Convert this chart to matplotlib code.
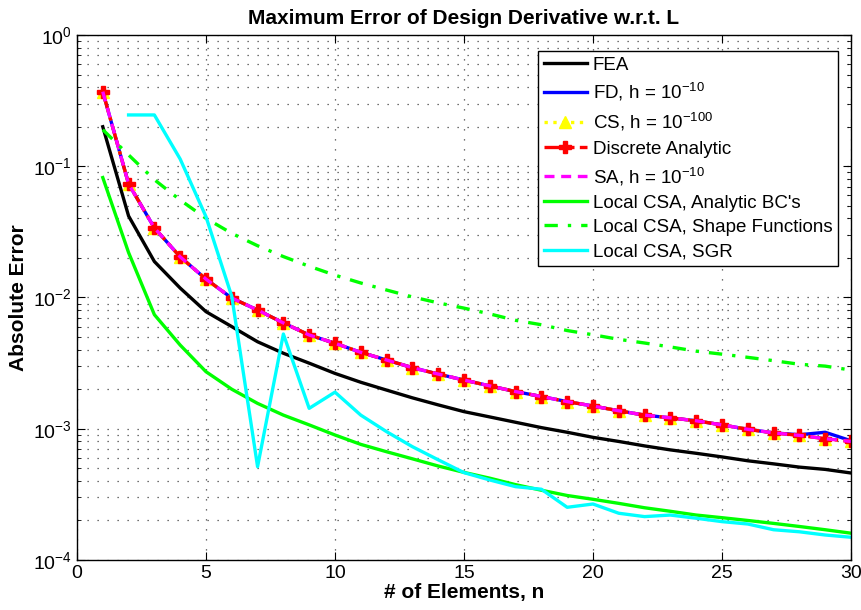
import numpy as np
import matplotlib
matplotlib.use('Agg')
import matplotlib.pyplot as plt
from matplotlib.ticker import LogLocator, FixedLocator

plt.rcParams['font.family'] = ['Liberation Sans', 'DejaVu Sans']
plt.rcParams['mathtext.fontset'] = 'custom'
plt.rcParams['mathtext.rm'] = 'Liberation Sans'

# number of elements
n = np.arange(1, 31)
n_sgr = np.arange(2, 31)

# errors
fea = [0.20, 0.0418, 0.0188, 0.0118, 0.0078, 0.0060, 0.0046, 0.00376, 0.00316, 0.00264,
       0.00226, 0.00197, 0.00172, 0.00152, 0.00135, 0.00123, 0.00112, 0.00102, 0.00094, 0.00086,
       0.00080, 0.00074, 0.00069, 0.00065, 0.00061, 0.00057, 0.00054, 0.00051, 0.00049, 0.00046]
analytic = [0.37, 0.0735, 0.0339, 0.0204, 0.0138, 0.0099, 0.00803, 0.0064, 0.00518, 0.00448,
            0.00382, 0.00334, 0.00292, 0.00261, 0.00235, 0.00212, 0.00192, 0.00176, 0.00161, 0.00149,
            0.00137, 0.00127, 0.00121, 0.00115, 0.00107, 0.00099, 0.00093, 0.00089, 0.00084, 0.00080]
fd = analytic[:27] + [0.00090, 0.00094, 0.00081]
cs = analytic
sa = analytic
csa_bc = [0.082, 0.022, 0.0074, 0.00434, 0.00272, 0.0020, 0.00156, 0.00127, 0.00107, 0.000896,
          0.00076, 0.000668, 0.000590, 0.000520, 0.000465, 0.000420, 0.000375, 0.000340, 0.000310, 0.000290,
          0.000270, 0.000250, 0.000235, 0.000220, 0.000210, 0.000200, 0.000190, 0.000180, 0.000170, 0.000160]
csa_shape = [0.19, 0.122, 0.079, 0.0553, 0.0401, 0.0308, 0.0248, 0.0205, 0.0173, 0.0148,
             0.0129, 0.0114, 0.0101, 0.0091, 0.0083, 0.0075, 0.0067, 0.0062, 0.0056, 0.0052,
             0.0048, 0.0045, 0.0042, 0.0039, 0.0037, 0.0035, 0.0033, 0.0031, 0.0030, 0.0028]
csa_sgr = [0.246, 0.246, 0.1135, 0.0413, 0.0102, 0.000514, 0.00527, 0.00143, 0.0019,
           0.00127, 0.00095, 0.00073, 0.00058, 0.000463, 0.000407, 0.000362, 0.000346, 0.000252, 0.000267,
           0.000227, 0.000214, 0.00022, 0.000208, 0.000196, 0.000188, 0.00017, 0.000164, 0.000155, 0.000149]

fig = plt.figure(figsize=(8.62, 6.10), dpi=100)
ax = fig.add_axes([0.0893, 0.082, 0.8979, 0.8606])

lw = 2.4
ax.semilogy(n, fea, color='black', lw=lw, label='FEA')
ax.semilogy(n, fd, color='blue', lw=lw, label=r'FD, h = 10$^{-10}$')
ax.semilogy(n, cs, color='yellow', lw=lw, ls=':', marker='^', ms=9, mec='yellow', mfc='yellow',
            label=r'CS, h = 10$^{-100}$')
ax.semilogy(n, analytic, color='red', lw=lw, ls='-.', marker='P', ms=8, mec='red', mfc='red',
            label='Discrete Analytic')
ax.semilogy(n, sa, color='magenta', lw=lw, ls='--', dashes=(3, 2), label=r'SA, h = 10$^{-10}$')
ax.semilogy(n, csa_bc, color='#00ff00', lw=lw, label="Local CSA, Analytic BC's")
ax.semilogy(n, csa_shape, color='#00ff00', lw=lw, ls='-.', dashes=(4, 3, 1, 3),
            label='Local CSA, Shape Functions')
ax.semilogy(n_sgr, csa_sgr, color='cyan', lw=lw, label='Local CSA, SGR')

ax.set_xlim(0, 30)
ax.set_ylim(1e-4, 1e0)
ax.xaxis.set_major_locator(FixedLocator([0, 5, 10, 15, 20, 25, 30]))
ax.yaxis.set_major_locator(LogLocator(base=10, numticks=10))
ax.yaxis.set_minor_locator(LogLocator(base=10, subs=np.arange(2, 10), numticks=10))
ax.yaxis.set_minor_formatter(plt.NullFormatter())

ax.grid(True, which='major', ls=(0, (1, 7)), color='#444444', lw=0.9)
ax.grid(True, which='minor', axis='y', ls=(0, (1, 7)), color='#444444', lw=0.9)
ax.tick_params(which='both', direction='in', top=True, right=True, labelsize=14)
ax.tick_params(which='major', length=6)
ax.tick_params(which='minor', length=3)
for s in ax.spines.values():
    s.set_linewidth(1.0)

ax.set_title('Maximum Error of Design Derivative w.r.t. L', fontsize=15, fontweight='bold', pad=8)
ax.set_xlabel('# of Elements, n', fontsize=15, fontweight='bold', labelpad=1)
ax.set_ylabel('Absolute Error', fontsize=15, fontweight='bold', labelpad=4)

leg = ax.legend(loc='upper right', bbox_to_anchor=(0.983, 0.97), fontsize=13.5, fancybox=False,
                framealpha=1, edgecolor='black', borderaxespad=0, labelspacing=0.38,
                handlelength=2.3, borderpad=0.3, handletextpad=0.3)
leg.get_frame().set_linewidth(1.0)

fig.savefig('out.png', dpi=100)
